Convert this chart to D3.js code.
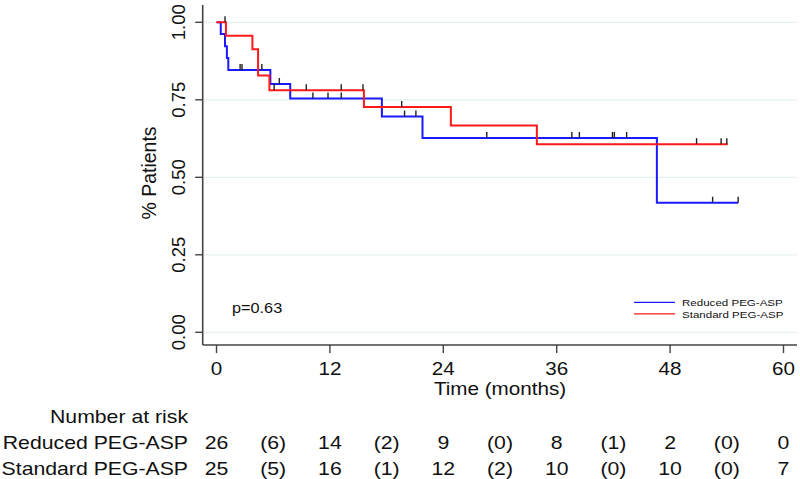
<!DOCTYPE html>
<html>
<head>
<meta charset="utf-8">
<script src="https://cdn.jsdelivr.net/npm/d3@7"></script>
<style>
  body { margin: 0; background: #fff; }
  svg { display: block; }
  text { font-family: "Liberation Sans", Arial, Helvetica, sans-serif; fill: #111; }
</style>
</head>
<body>
<svg id="chart" width="800" height="479"></svg>
<script>
// ---------- DATA ----------
const xTicks = [0, 12, 24, 36, 48, 60];
const yTicks = [0, 0.25, 0.5, 0.75, 1.0];
const yTickLabels = ["0.00", "0.25", "0.50", "0.75", "1.00"];

// Kaplan-Meier steps (time in months, survival)
const reducedTimes = [0, 0.45, 0.9, 1.1, 1.25, 5.7, 7.8, 17.5, 21.8, 46.6];
const reducedSurv  = [1.0, 0.962, 0.923, 0.885, 0.846, 0.801, 0.754, 0.696, 0.627, 0.418];
const reducedEnd = 55.2;
const reducedCensor = [2.5, 2.7, 4.8, 6.65, 10.2, 11.8, 13.2, 19.9, 21.1, 28.6, 37.6, 38.4, 41.9, 42.1, 43.4, 52.5, 55.2];

const standardTimes = [0, 1.0, 3.8, 4.4, 5.6, 15.6, 24.8, 33.9];
const standardSurv  = [1.0, 0.957, 0.913, 0.828, 0.781, 0.727, 0.667, 0.607];
const standardEnd = 54.1;
const standardCensor = [0.9, 6.1, 9.5, 13.2, 15.5, 19.6, 50.8, 53.4, 54.0];

// Number at risk table
const riskTimes = [0, 6, 12, 18, 24, 30, 36, 42, 48, 54, 60];
const reducedRisk  = ["26", "(6)", "14", "(2)", "9", "(0)", "8", "(1)", "2", "(0)", "0"];
const standardRisk = ["25", "(5)", "16", "(1)", "12", "(2)", "10", "(0)", "10", "(0)", "7"];

const seriesNames = ["Reduced PEG-ASP", "Standard PEG-ASP"];
const seriesColors = ["#1a1aff", "#ff1a1a"];
const pValueText = "p=0.63";

// ---------- CHART ----------
const svg = d3.select("#chart");
const x = d3.scaleLinear().domain([0, 60]).range([216.5, 783.5]);
const y = d3.scaleLinear().domain([0, 1]).range([332.3, 22.3]);

const axisX0 = 202.7, axisX1 = 797, axisYTop = 5, axisYBot = 345;
const SX = 1.18; // horizontal text stretch seen in the reference

function wideText(sel, px, py, size, anchor, str) {
  return sel.append("text")
    .attr("transform", `translate(${px},${py}) scale(${SX},1)`)
    .attr("text-anchor", anchor || "start")
    .style("font-size", size + "px")
    .text(str);
}

// gridlines
svg.append("g").selectAll("line").data(yTicks).join("line")
  .attr("x1", axisX0 + 1).attr("x2", axisX1)
  .attr("y1", d => y(d)).attr("y2", d => y(d))
  .attr("stroke", "#e6f0f3").attr("stroke-width", 1.2);

// axes lines
svg.append("line").attr("x1", axisX0).attr("x2", axisX0).attr("y1", axisYTop).attr("y2", axisYBot)
  .attr("stroke", "#444").attr("stroke-width", 1.6);
svg.append("line").attr("x1", axisX0).attr("x2", axisX1).attr("y1", axisYBot).attr("y2", axisYBot)
  .attr("stroke", "#444").attr("stroke-width", 1.6);

// y ticks
const yAx = svg.append("g");
yAx.selectAll("line").data(yTicks).join("line")
  .attr("x1", axisX0 - 7.5).attr("x2", axisX0)
  .attr("y1", d => y(d)).attr("y2", d => y(d))
  .attr("stroke", "#444").attr("stroke-width", 1.4);
yAx.selectAll("text").data(yTicks).join("text")
  .attr("transform", d => `translate(185,${y(d)}) rotate(-90)`)
  .attr("text-anchor", "middle")
  .style("font-size", "18.5px")
  .text((d, i) => yTickLabels[i]);

// x ticks
const xAx = svg.append("g");
xAx.selectAll("line").data(xTicks).join("line")
  .attr("x1", d => x(d)).attr("x2", d => x(d))
  .attr("y1", axisYBot).attr("y2", axisYBot + 8)
  .attr("stroke", "#444").attr("stroke-width", 1.4);
xAx.selectAll("text").data(xTicks).join("text")
  .attr("transform", d => `translate(${x(d)},374.5) scale(${SX},1)`)
  .attr("text-anchor", "middle")
  .style("font-size", "17.5px")
  .text(d => d);

// axis titles
wideText(svg, (x(0) + x(60)) / 2, 395, 17.5, "middle", "Time (months)");
svg.append("text").attr("transform", "translate(156,173) rotate(-90)").attr("text-anchor", "middle")
  .style("font-size", "19.5px").text("% Patients");

// KM curves
function steps(times, surv, end) {
  const pts = times.map((t, i) => [t, surv[i]]);
  pts.push([end, surv[surv.length - 1]]);
  return pts;
}
function survAt(times, surv, t) {
  let s = surv[0];
  for (let i = 0; i < times.length; i++) if (times[i] <= t) s = surv[i];
  return s;
}
const line = d3.line().x(d => x(d[0])).y(d => y(d[1])).curve(d3.curveStepAfter);

const series = [
  { times: reducedTimes, surv: reducedSurv, end: reducedEnd, censor: reducedCensor, color: seriesColors[0] },
  { times: standardTimes, surv: standardSurv, end: standardEnd, censor: standardCensor, color: seriesColors[1] }
];

series.forEach(s => {
  svg.append("path").datum(steps(s.times, s.surv, s.end))
    .attr("d", line).attr("fill", "none")
    .attr("stroke", s.color).attr("stroke-width", 2);
});
series.forEach(s => {
  svg.append("g").selectAll("line").data(s.censor).join("line")
    .attr("x1", d => x(d)).attr("x2", d => x(d))
    .attr("y1", d => y(survAt(s.times, s.surv, d))).attr("y2", d => y(survAt(s.times, s.surv, d)) - 6)
    .attr("stroke", "#222").attr("stroke-width", 1.4);
});

// p-value
wideText(svg, 232, 313, 13.8, "start", pValueText);

// legend
const lg = svg.append("g");
seriesNames.forEach((name, i) => {
  const ly = 302.3 + i * 11.5;
  lg.append("line").attr("x1", 634).attr("x2", 675).attr("y1", ly).attr("y2", ly)
    .attr("stroke", seriesColors[i]).attr("stroke-width", 1.3);
  wideText(lg, 682, ly + 4, 9.8, "start", name);
});

// number at risk
const riskFont = 18;
wideText(svg, 188, 423, riskFont, "end", "Number at risk");
[reducedRisk, standardRisk].forEach((row, i) => {
  const by = 449 + i * 26;
  wideText(svg, 188, by, riskFont, "end", seriesNames[i]);
  svg.append("g").selectAll("text").data(row).join("text")
    .attr("transform", (d, j) => `translate(${x(riskTimes[j])},${by}) scale(${SX},1)`)
    .attr("text-anchor", "middle").style("font-size", riskFont + "px")
    .text(d => d);
});
</script>
</body>
</html>
